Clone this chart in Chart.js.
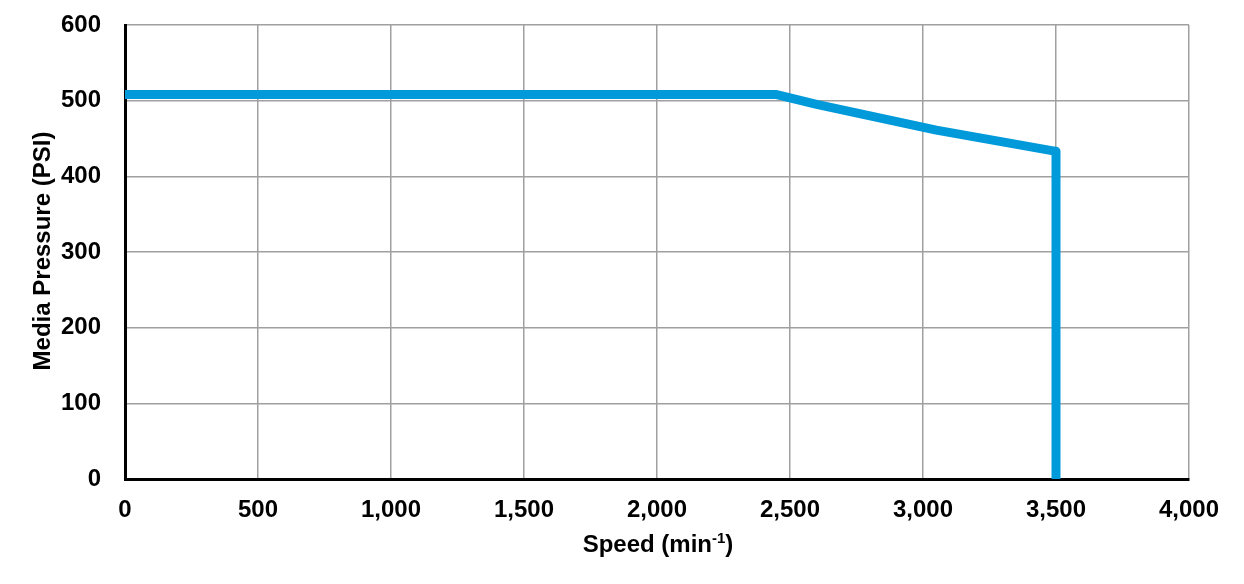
<!DOCTYPE html>
<html><head><meta charset="utf-8">
<script src="https://cdn.jsdelivr.net/npm/chart.js@4/dist/chart.umd.min.js"></script>
<style>html,body{margin:0;padding:0;background:#fff}#wrap{width:1244px;height:584px}</style>
</head><body><div id="wrap"><canvas id="c" width="1244" height="584"></canvas></div>
<script>
const speeds = [0, 2450, 2600, 3050, 3500, 3500];
const pressures = [508, 508, 495, 461, 433, 0];
const xTicks = [0, 500, 1000, 1500, 2000, 2500, 3000, 3500, 4000];
const yTicks = [0, 100, 200, 300, 400, 500, 600];
const xTitle = ['Speed (min', '-1', ')'];
const yTitle = 'Media Pressure (PSI)';

const FONT = '"Liberation Sans", Arial, sans-serif';
const titlePlugin = {
  id: 'titles',
  afterDraw(chart) {
    const ctx = chart.ctx, a = chart.chartArea;
    ctx.save();
    ctx.fillStyle = '#000';
    ctx.textBaseline = 'alphabetic';
    const big = 'bold 24px ' + FONT, small = 'bold 15px ' + FONT;
    ctx.font = big; const w1 = ctx.measureText(xTitle[0]).width, w3 = ctx.measureText(xTitle[2]).width;
    ctx.font = small; const w2 = ctx.measureText(xTitle[1]).width;
    const total = w1 + w2 + w3;
    let x = (a.left + a.right) / 2 - total / 2 + 1;
    const base = 552;
    ctx.textAlign = 'left';
    ctx.font = big; ctx.fillText(xTitle[0], x, base); x += w1;
    ctx.font = small; ctx.fillText(xTitle[1], x, base - 9); x += w2;
    ctx.font = big; ctx.fillText(xTitle[2], x, base);
    ctx.translate(43, 251);
    ctx.rotate(-Math.PI / 2);
    ctx.textAlign = 'center'; ctx.textBaseline = 'middle';
    ctx.font = big; ctx.fillText(yTitle, 0, 0);
    ctx.restore();
  }
};

function noPad(s) { s.paddingTop = 0; s.paddingBottom = 0; s.paddingLeft = 0; s.paddingRight = 0; }

new Chart(document.getElementById('c'), {
  type: 'line',
  data: {
    datasets: [{
      data: speeds.map((s, i) => ({x: s, y: pressures[i]})),
      borderColor: '#009ADA',
      borderWidth: 9,
      pointRadius: 0,
      fill: false,
      tension: 0,
      borderJoinStyle: 'round',
      borderCapStyle: 'butt'
    }]
  },
  options: {
    responsive: false,
    animation: false,
    devicePixelRatio: 1,
    layout: {padding: {top: 25, right: 55, left: 0, bottom: 0}},
    plugins: {legend: {display: false}, tooltip: {enabled: false}},
    scales: {
      x: {
        type: 'linear', min: 0, max: 4000,
        afterBuildTicks(s) { s.ticks = xTicks.map(v => ({value: v})); },
        afterFit(s) { s.height = 584 - 479; noPad(s); },
        grid: {color: '#a0a0a0', lineWidth: 1.5, drawTicks: false},
        border: {color: '#000', width: 3},
        ticks: {padding: 17, color: '#000', font: {family: FONT, size: 24, weight: 'bold'}, maxRotation: 0,
          callback: v => v.toLocaleString('en-US')}
      },
      y: {
        type: 'linear', min: 0, max: 600,
        afterBuildTicks(s) { s.ticks = yTicks.map(v => ({value: v})); },
        afterFit(s) { s.width = 125; noPad(s); },
        grid: {color: '#a0a0a0', lineWidth: 1.5, drawTicks: false},
        border: {color: '#000', width: 3},
        ticks: {padding: 24, color: '#000', font: {family: FONT, size: 24, weight: 'bold'}}
      }
    }
  },
  plugins: [titlePlugin]
});
</script></body></html>
